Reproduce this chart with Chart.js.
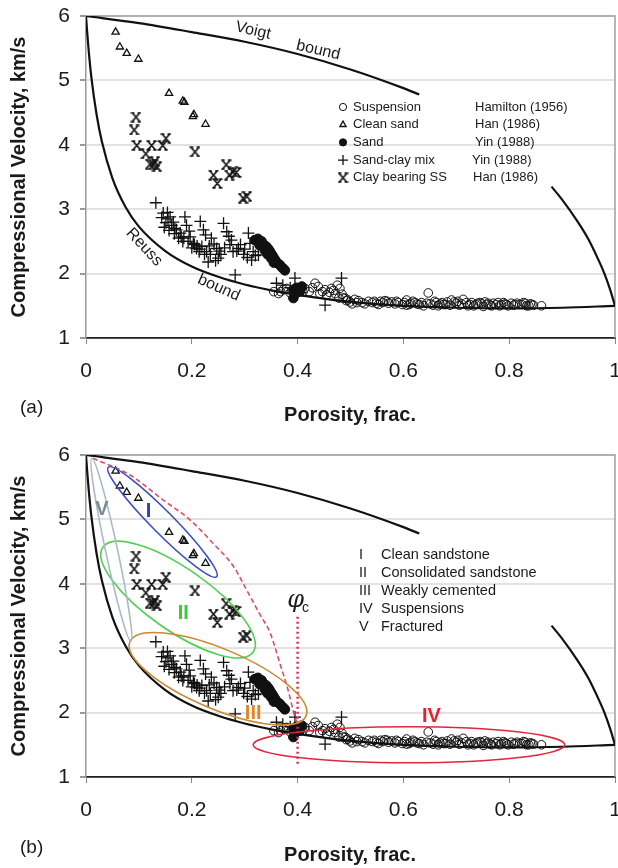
<!DOCTYPE html>
<html>
<head>
<meta charset="utf-8">
<script src="https://cdn.jsdelivr.net/npm/chart.js@4.4.0/dist/chart.umd.min.js"></script>
<style>
  html, body { margin: 0; padding: 0; background: #fff; }
  body { width: 618px; height: 868px; overflow: hidden; }
  canvas { display: block; }
</style>
</head>
<body>
<canvas id="chartA" width="618" height="439"></canvas>
<canvas id="chartB" width="618" height="429"></canvas>
<script>
// bounds (porosity, km/s); null = hidden behind the legend
const voigtPhi = [0, 0.1, 0.2, 0.3, 0.4, 0.5, 0.6, 0.63, 0.75, 0.88, 0.9, 0.93, 0.95, 0.97, 0.98, 0.99, 1];
const voigtVel = [6, 5.89, 5.75, 5.6, 5.41, 5.17, 4.88, 4.78, null, 3.35, 3.15, 2.8, 2.53, 2.19, 2.0, 1.77, 1.5];
const reussPhi = [0, 0.002, 0.005, 0.01, 0.02, 0.03, 0.05, 0.075, 0.1, 0.15, 0.2, 0.25, 0.3, 0.35, 0.4, 0.5, 0.6, 0.7, 0.8, 0.9, 1];
const reussVel = [6, 5.77, 5.47, 5.06, 4.47, 4.05, 3.48, 3.03, 2.73, 2.35, 2.11, 1.95, 1.83, 1.74, 1.67, 1.56, 1.5, 1.47, 1.46, 1.47, 1.5];

// Suspension, Hamilton (1956)
const suspPhi = [0.355, 0.364, 0.368, 0.373, 0.379, 0.386, 0.405, 0.41, 0.414, 0.422, 0.428, 0.433, 0.439, 0.442, 0.447, 0.452, 0.455, 0.46, 0.464, 0.468,
  0.471, 0.475, 0.48, 0.478, 0.484, 0.486, 0.49, 0.492, 0.495, 0.499, 0.503, 0.508, 0.512, 0.515, 0.522, 0.527, 0.534, 0.541, 0.545, 0.549,
  0.553, 0.557, 0.561, 0.565, 0.569, 0.572, 0.578, 0.584, 0.587, 0.59, 0.598, 0.602, 0.606, 0.606, 0.611, 0.614, 0.618, 0.622, 0.626, 0.63,
  0.634, 0.638, 0.644, 0.647, 0.651, 0.656, 0.659, 0.662, 0.666, 0.669, 0.673, 0.676, 0.68, 0.683, 0.688, 0.691, 0.696, 0.7, 0.703, 0.706,
  0.71, 0.713, 0.719, 0.722, 0.726, 0.729, 0.733, 0.737, 0.74, 0.745, 0.748, 0.751, 0.754, 0.757, 0.76, 0.764, 0.767, 0.77, 0.775, 0.779,
  0.782, 0.785, 0.789, 0.792, 0.795, 0.798, 0.804, 0.808, 0.811, 0.815, 0.82, 0.824, 0.827, 0.83, 0.833, 0.837, 0.84, 0.843, 0.846, 0.861];
const suspVel = [1.72, 1.69, 1.72, 1.75, 1.77, 1.7, 1.74, 1.72, 1.77, 1.72, 1.78, 1.85, 1.8, 1.69, 1.72, 1.75, 1.67, 1.71, 1.77, 1.74,
  1.69, 1.82, 1.77, 1.62, 1.68, 1.62, 1.62, 1.58, 1.59, 1.56, 1.53, 1.6, 1.55, 1.58, 1.55, 1.53, 1.57, 1.55, 1.57, 1.54,
  1.52, 1.57, 1.55, 1.58, 1.57, 1.54, 1.56, 1.53, 1.57, 1.55, 1.52, 1.55, 1.59, 1.51, 1.52, 1.54, 1.57, 1.55, 1.53, 1.52,
  1.55, 1.5, 1.54, 1.7, 1.53, 1.51, 1.57, 1.55, 1.5, 1.53, 1.55, 1.52, 1.52, 1.56, 1.51, 1.59, 1.56, 1.54, 1.57, 1.51,
  1.53, 1.6, 1.55, 1.5, 1.52, 1.55, 1.5, 1.52, 1.54, 1.55, 1.53, 1.49, 1.56, 1.52, 1.54, 1.51, 1.5, 1.54, 1.52, 1.55,
  1.5, 1.52, 1.55, 1.53, 1.52, 1.5, 1.54, 1.51, 1.52, 1.54, 1.52, 1.52, 1.55, 1.54, 1.5, 1.5, 1.53, 1.52, 1.51, 1.5];

// Clean sand, Han (1986)
const cleanPhi = [0.056, 0.064, 0.077, 0.099, 0.157, 0.183, 0.186, 0.202, 0.204, 0.226];
const cleanVel = [5.75, 5.52, 5.42, 5.33, 4.8, 4.68, 4.66, 4.44, 4.47, 4.32];

// Sand, Yin (1988)
const sandPhi = [0.319, 0.325, 0.328, 0.332, 0.336, 0.338, 0.341, 0.343, 0.345, 0.348, 0.35, 0.351, 0.354, 0.355, 0.357, 0.36, 0.364, 0.367, 0.371, 0.374, 0.376,
  0.392, 0.392, 0.395, 0.398, 0.401, 0.404, 0.408];
const sandVel = [2.52, 2.54, 2.44, 2.5, 2.45, 2.36, 2.42, 2.3, 2.38, 2.34, 2.24, 2.3, 2.26, 2.17, 2.22, 2.18, 2.15, 2.13, 2.09, 2.07, 2.05,
  1.75, 1.62, 1.68, 1.78, 1.77, 1.72, 1.8];

// Sand-clay mix, Yin (1988)
const mixPhi = [0.132, 0.143, 0.146, 0.154, 0.159, 0.151, 0.148, 0.162, 0.157, 0.167, 0.171, 0.178, 0.175, 0.183, 0.187, 0.19, 0.195, 0.197, 0.203, 0.2,
  0.209, 0.214, 0.216, 0.222, 0.226, 0.219, 0.228, 0.231, 0.237, 0.242, 0.247, 0.25, 0.255, 0.26, 0.266, 0.27, 0.275, 0.278, 0.282, 0.288,
  0.292, 0.3, 0.307, 0.31, 0.316, 0.313, 0.32, 0.326, 0.36, 0.372, 0.395, 0.386, 0.452, 0.483, 0.21, 0.185, 0.165, 0.235, 0.245,
  0.155, 0.168, 0.18, 0.193, 0.205, 0.215, 0.224, 0.233, 0.252, 0.262, 0.272, 0.285, 0.298, 0.305];
const mixVel = [3.1, 2.87, 2.94, 2.95, 2.88, 2.79, 2.72, 2.75, 2.67, 2.62, 2.68, 2.63, 2.55, 2.5, 2.88, 2.75, 2.66, 2.57, 2.47, 2.4,
  2.39, 2.34, 2.81, 2.68, 2.6, 2.42, 2.34, 2.18, 2.55, 2.46, 2.39, 2.24, 2.3, 2.78, 2.65, 2.58, 2.52, 2.34, 1.98, 2.39,
  2.45, 2.38, 2.63, 2.47, 2.34, 2.21, 2.28, 2.29, 1.85, 1.82, 1.93, 1.78, 1.51, 1.93, 2.43, 2.55, 2.8, 2.3, 2.2,
  2.85, 2.7, 2.57, 2.5, 2.45, 2.38, 2.3, 2.43, 2.35, 2.4, 2.45, 2.35, 2.3, 2.25];

// Clay bearing SS, Han (1986)
const clayPhi = [0.0945, 0.091, 0.096, 0.113, 0.124, 0.145, 0.151, 0.121, 0.13, 0.134, 0.127, 0.206, 0.241, 0.248, 0.265, 0.271, 0.278, 0.284, 0.297, 0.304];
const clayVel = [4.43, 4.23, 3.99, 3.86, 3.99, 3.99, 4.1, 3.7, 3.74, 3.66, 3.69, 3.89, 3.53, 3.4, 3.69, 3.53, 3.58, 3.57, 3.17, 3.2];

// panel (b): dashed outer envelope and critical porosity line
const envPhi = [0.013, 0.083, 0.146, 0.197, 0.24, 0.278, 0.304, 0.329, 0.348, 0.367, 0.382, 0.393, 0.399];
const envVel = [5.95, 5.69, 5.3, 4.99, 4.63, 4.28, 3.9, 3.52, 3.24, 2.75, 2.35, 1.99, 1.84];
const critPhi = [0.4, 0.4];
const critVel = [3.49, 1.16];

const xTicks = [0, 0.2, 0.4, 0.6, 0.8, 1];
const yTicks = [1, 2, 3, 4, 5, 6];

const legendNames = ['Suspension', 'Clean sand', 'Sand', 'Sand-clay mix', 'Clay bearing SS'];
const legendRefs = ['Hamilton (1956)', 'Han (1986)', 'Yin (1988)', 'Yin (1988)', 'Han (1986)'];
const regionNums = ['I', 'II', 'III', 'IV', 'V'];
const regionNames = ['Clean sandstone', 'Consolidated sandstone', 'Weakly cemented', 'Suspensions', 'Fractured'];

const FONT = '"Liberation Sans", Arial, Helvetica, sans-serif';
const pts = (xs, ys) => xs.map((v, i) => ({ x: v, y: ys[i] }));

// clay bearing marker: X with little feet
function clayMarker() {
  const c = document.createElement('canvas');
  c.width = 11; c.height = 11;
  const g = c.getContext('2d');
  g.strokeStyle = '#111'; g.lineWidth = 1.7;
  g.beginPath();
  g.moveTo(2, 1.5); g.lineTo(9, 9.5);
  g.moveTo(9, 1.5); g.lineTo(2, 9.5);
  g.moveTo(0.5, 1.2); g.lineTo(3.8, 1.2);
  g.moveTo(7.2, 1.2); g.lineTo(10.5, 1.2);
  g.moveTo(0.5, 9.8); g.lineTo(3.8, 9.8);
  g.moveTo(7.2, 9.8); g.lineTo(10.5, 9.8);
  g.stroke();
  return c;
}
const clayImg = clayMarker();

function markerStyle(i) {
  return [
    { pointStyle: 'circle', radius: 4.3, borderWidth: 1, fill: 'rgba(0,0,0,0)' },
    { pointStyle: 'triangle', radius: 4.2, borderWidth: 1.3, fill: 'rgba(0,0,0,0)' },
    { pointStyle: 'circle', radius: 4.8, borderWidth: 1, fill: '#111' },
    { pointStyle: 'cross', radius: 6, borderWidth: 1.3, fill: 'rgba(0,0,0,0)' },
    { pointStyle: clayImg, radius: 6, borderWidth: 1, fill: 'rgba(0,0,0,0)' }
  ][i];
}

function dataDatasets() {
  const series = [pts(suspPhi, suspVel), pts(cleanPhi, cleanVel), pts(sandPhi, sandVel), pts(mixPhi, mixVel), pts(clayPhi, clayVel)];
  return series.map((d, i) => {
    const m = markerStyle(i);
    return {
      data: d, showLine: false, pointStyle: m.pointStyle, pointRadius: m.radius,
      pointBorderWidth: m.borderWidth, pointBorderColor: '#111', pointBackgroundColor: m.fill
    };
  });
}

function boundDatasets() {
  const line = { showLine: true, pointRadius: 0, borderColor: '#111', borderWidth: 2.2, spanGaps: false, cubicInterpolationMode: 'monotone' };
  return [
    Object.assign({ data: pts(voigtPhi, voigtVel) }, line),
    Object.assign({ data: pts(reussPhi, reussVel) }, line)
  ];
}

// frame, titles and extra drawing
const decor = {
  id: 'decor',
  beforeDatasetsDraw(chart) {
    const { ctx, chartArea: a } = chart;
    ctx.save();
    ctx.strokeStyle = '#a0a0a0';
    ctx.lineWidth = 1.5;
    ctx.beginPath();
    ctx.moveTo(a.left, a.top); ctx.lineTo(a.right, a.top); ctx.lineTo(a.right, a.bottom);
    ctx.stroke();
    ctx.restore();
  },
  afterDraw(chart, args, opts) {
    const { ctx, chartArea: a, scales: { x, y } } = chart;
    ctx.save();
    ctx.fillStyle = '#1a1a1a';
    ctx.textBaseline = 'middle';

    // axis titles
    ctx.font = 'bold 20px ' + FONT;
    ctx.textAlign = 'center';
    ctx.fillText('Porosity, frac.', 350, opts.xTitleY);
    ctx.save();
    ctx.translate(19, (a.top + a.bottom) / 2);
    ctx.rotate(-Math.PI / 2);
    ctx.fillText('Compressional Velocity, km/s', 0, 0);
    ctx.restore();
    ctx.font = '19px ' + FONT;
    ctx.textAlign = 'left';
    ctx.fillText(opts.tag, 20, opts.tagY);

    if (opts.panel === 'a') {
      // bound labels
      ctx.font = '16px ' + FONT;
      ctx.textAlign = 'center';
      const rot = (txt, px, py, deg) => {
        ctx.save();
        ctx.translate(x.getPixelForValue(px), y.getPixelForValue(py));
        ctx.rotate(deg * Math.PI / 180);
        ctx.fillText(txt, 0, 0);
        ctx.restore();
      };
      rot('Voigt', 0.316, 5.77, 13);
      rot('bound', 0.439, 5.47, 13);
      rot('Reuss', 0.11, 2.41, 47);
      rot('bound', 0.251, 1.78, 24);

      // symbol legend
      ctx.font = '13px ' + FONT;
      ctx.textAlign = 'left';
      const refX = [475, 475, 475, 472, 473];
      legendNames.forEach((n, i) => {
        const yy = 107 + i * 17.7;
        const m = markerStyle(i);
        ctx.save();
        ctx.strokeStyle = '#111';
        ctx.fillStyle = m.fill;
        ctx.lineWidth = m.borderWidth;
        Chart.helpers.drawPoint(ctx, { pointStyle: m.pointStyle, radius: i === 3 ? 5 : 3.6, borderWidth: m.borderWidth, rotation: 0 }, 343, yy);
        ctx.restore();
        ctx.fillText(n, 353, yy);
        ctx.fillText(legendRefs[i], refX[i], yy);
      });
    } else {
      // regions
      const ell = [
        { p1: [0.042, 5.81], p2: [0.247, 4.11], b: 11, c: '#3a4fc0' },
        { p1: [0.032, 4.57], p2: [0.316, 2.94], b: 31, c: '#52cf52' },
        { p1: [0.083, 3.10], p2: [0.416, 1.95], b: 30, c: '#c98a34' },
        { p1: [0.316, 1.50], p2: [0.905, 1.50], b: 18, c: '#e0283c' },
        { p1: [0.011, 5.95], p2: [0.085, 3.11], b: 6, c: '#a9b9c9' }
      ];
      ctx.lineWidth = 1.6;
      ell.forEach(e => {
        const x1 = x.getPixelForValue(e.p1[0]), y1 = y.getPixelForValue(e.p1[1]);
        const x2 = x.getPixelForValue(e.p2[0]), y2 = y.getPixelForValue(e.p2[1]);
        const ra = Math.hypot(x2 - x1, y2 - y1) / 2;
        ctx.strokeStyle = e.c;
        ctx.beginPath();
        ctx.ellipse((x1 + x2) / 2, (y1 + y2) / 2, ra, e.b, Math.atan2(y2 - y1, x2 - x1), 0, Math.PI * 2);
        ctx.stroke();
      });

      // numerals on the plot
      const labs = [
        ['I', 0.118, 5.12, '#2d3fb3'], ['II', 0.184, 3.54, '#33cc33'], ['III', 0.316, 1.99, '#e0862a'],
        ['IV', 0.653, 1.94, '#e8202a'], ['V', 0.03, 5.15, '#7f8c8d']
      ];
      ctx.font = 'bold 20px ' + FONT;
      ctx.textAlign = 'center';
      labs.forEach(l => {
        ctx.fillStyle = l[3];
        ctx.fillText(l[0], x.getPixelForValue(l[1]), y.getPixelForValue(l[2]));
      });

      // phi_c
      ctx.fillStyle = '#1a1a1a';
      ctx.font = 'italic 24px "DejaVu Serif", serif';
      ctx.fillText('\u03c6', x.getPixelForValue(0.4) - 2, y.getPixelForValue(3.74));
      ctx.font = '14px ' + FONT;
      ctx.fillText('c', x.getPixelForValue(0.4) + 8, y.getPixelForValue(3.62));

      // region legend
      ctx.font = '14.5px ' + FONT;
      ctx.textAlign = 'left';
      regionNums.forEach((n, i) => {
        const yy = 116 + i * 18;
        ctx.fillText(n, 359, yy);
        ctx.fillText(regionNames[i], 381, yy);
      });
    }
    ctx.restore();
  }
};

function makeChart(id, extra, opts) {
  const h = document.getElementById(id).height;
  return new Chart(document.getElementById(id), {
    type: 'scatter',
    data: { datasets: boundDatasets().concat(extra, dataDatasets()) },
    options: {
      responsive: false,
      animation: false,
      layout: { autoPadding: false, padding: { top: 16, right: 3, left: 0, bottom: 0 } },
      plugins: { legend: { display: false }, tooltip: { enabled: false }, decor: opts },
      scales: {
        x: {
          type: 'linear', min: 0, max: 1,
          afterBuildTicks: s => { s.ticks = xTicks.map(v => ({ value: v })); },
          afterFit: s => { s.height = h - 338; s.paddingLeft = 0; s.paddingRight = 3; },
          ticks: { color: '#1a1a1a', font: { family: FONT, size: 21 }, padding: 15, maxRotation: 0, autoSkip: false, callback: v => String(v) },
          grid: { drawOnChartArea: false, tickLength: 6, color: '#888', tickColor: '#888' },
          border: { color: '#222', width: 1.8 }
        },
        y: {
          type: 'linear', min: 1, max: 6,
          afterBuildTicks: s => { s.ticks = yTicks.map(v => ({ value: v })); },
          afterFit: s => { s.width = 86; s.paddingTop = 0; s.paddingBottom = 0; },
          ticks: { color: '#1a1a1a', font: { family: FONT, size: 21 }, padding: 10, callback: v => String(v) },
          grid: { color: '#e2e2e2', lineWidth: 2, tickLength: 6, tickColor: '#999' },
          border: { color: '#999', width: 1.5 }
        }
      }
    },
    plugins: [decor]
  });
}

makeChart('chartA', [], { panel: 'a', tag: '(a)', tagY: 408, xTitleY: 415 });

const envDs = { data: pts(envPhi, envVel), showLine: true, pointRadius: 0, borderColor: '#e04a64', borderWidth: 1.6, borderDash: [5, 3], cubicInterpolationMode: 'monotone' };
const critDs = { data: pts(critPhi, critVel), showLine: true, pointRadius: 0, borderColor: '#d8305a', borderWidth: 2.5, borderDash: [2, 3] };
makeChart('chartB', [envDs, critDs], { panel: 'b', tag: '(b)', tagY: 409, xTitleY: 416 });
</script>
</body>
</html>
